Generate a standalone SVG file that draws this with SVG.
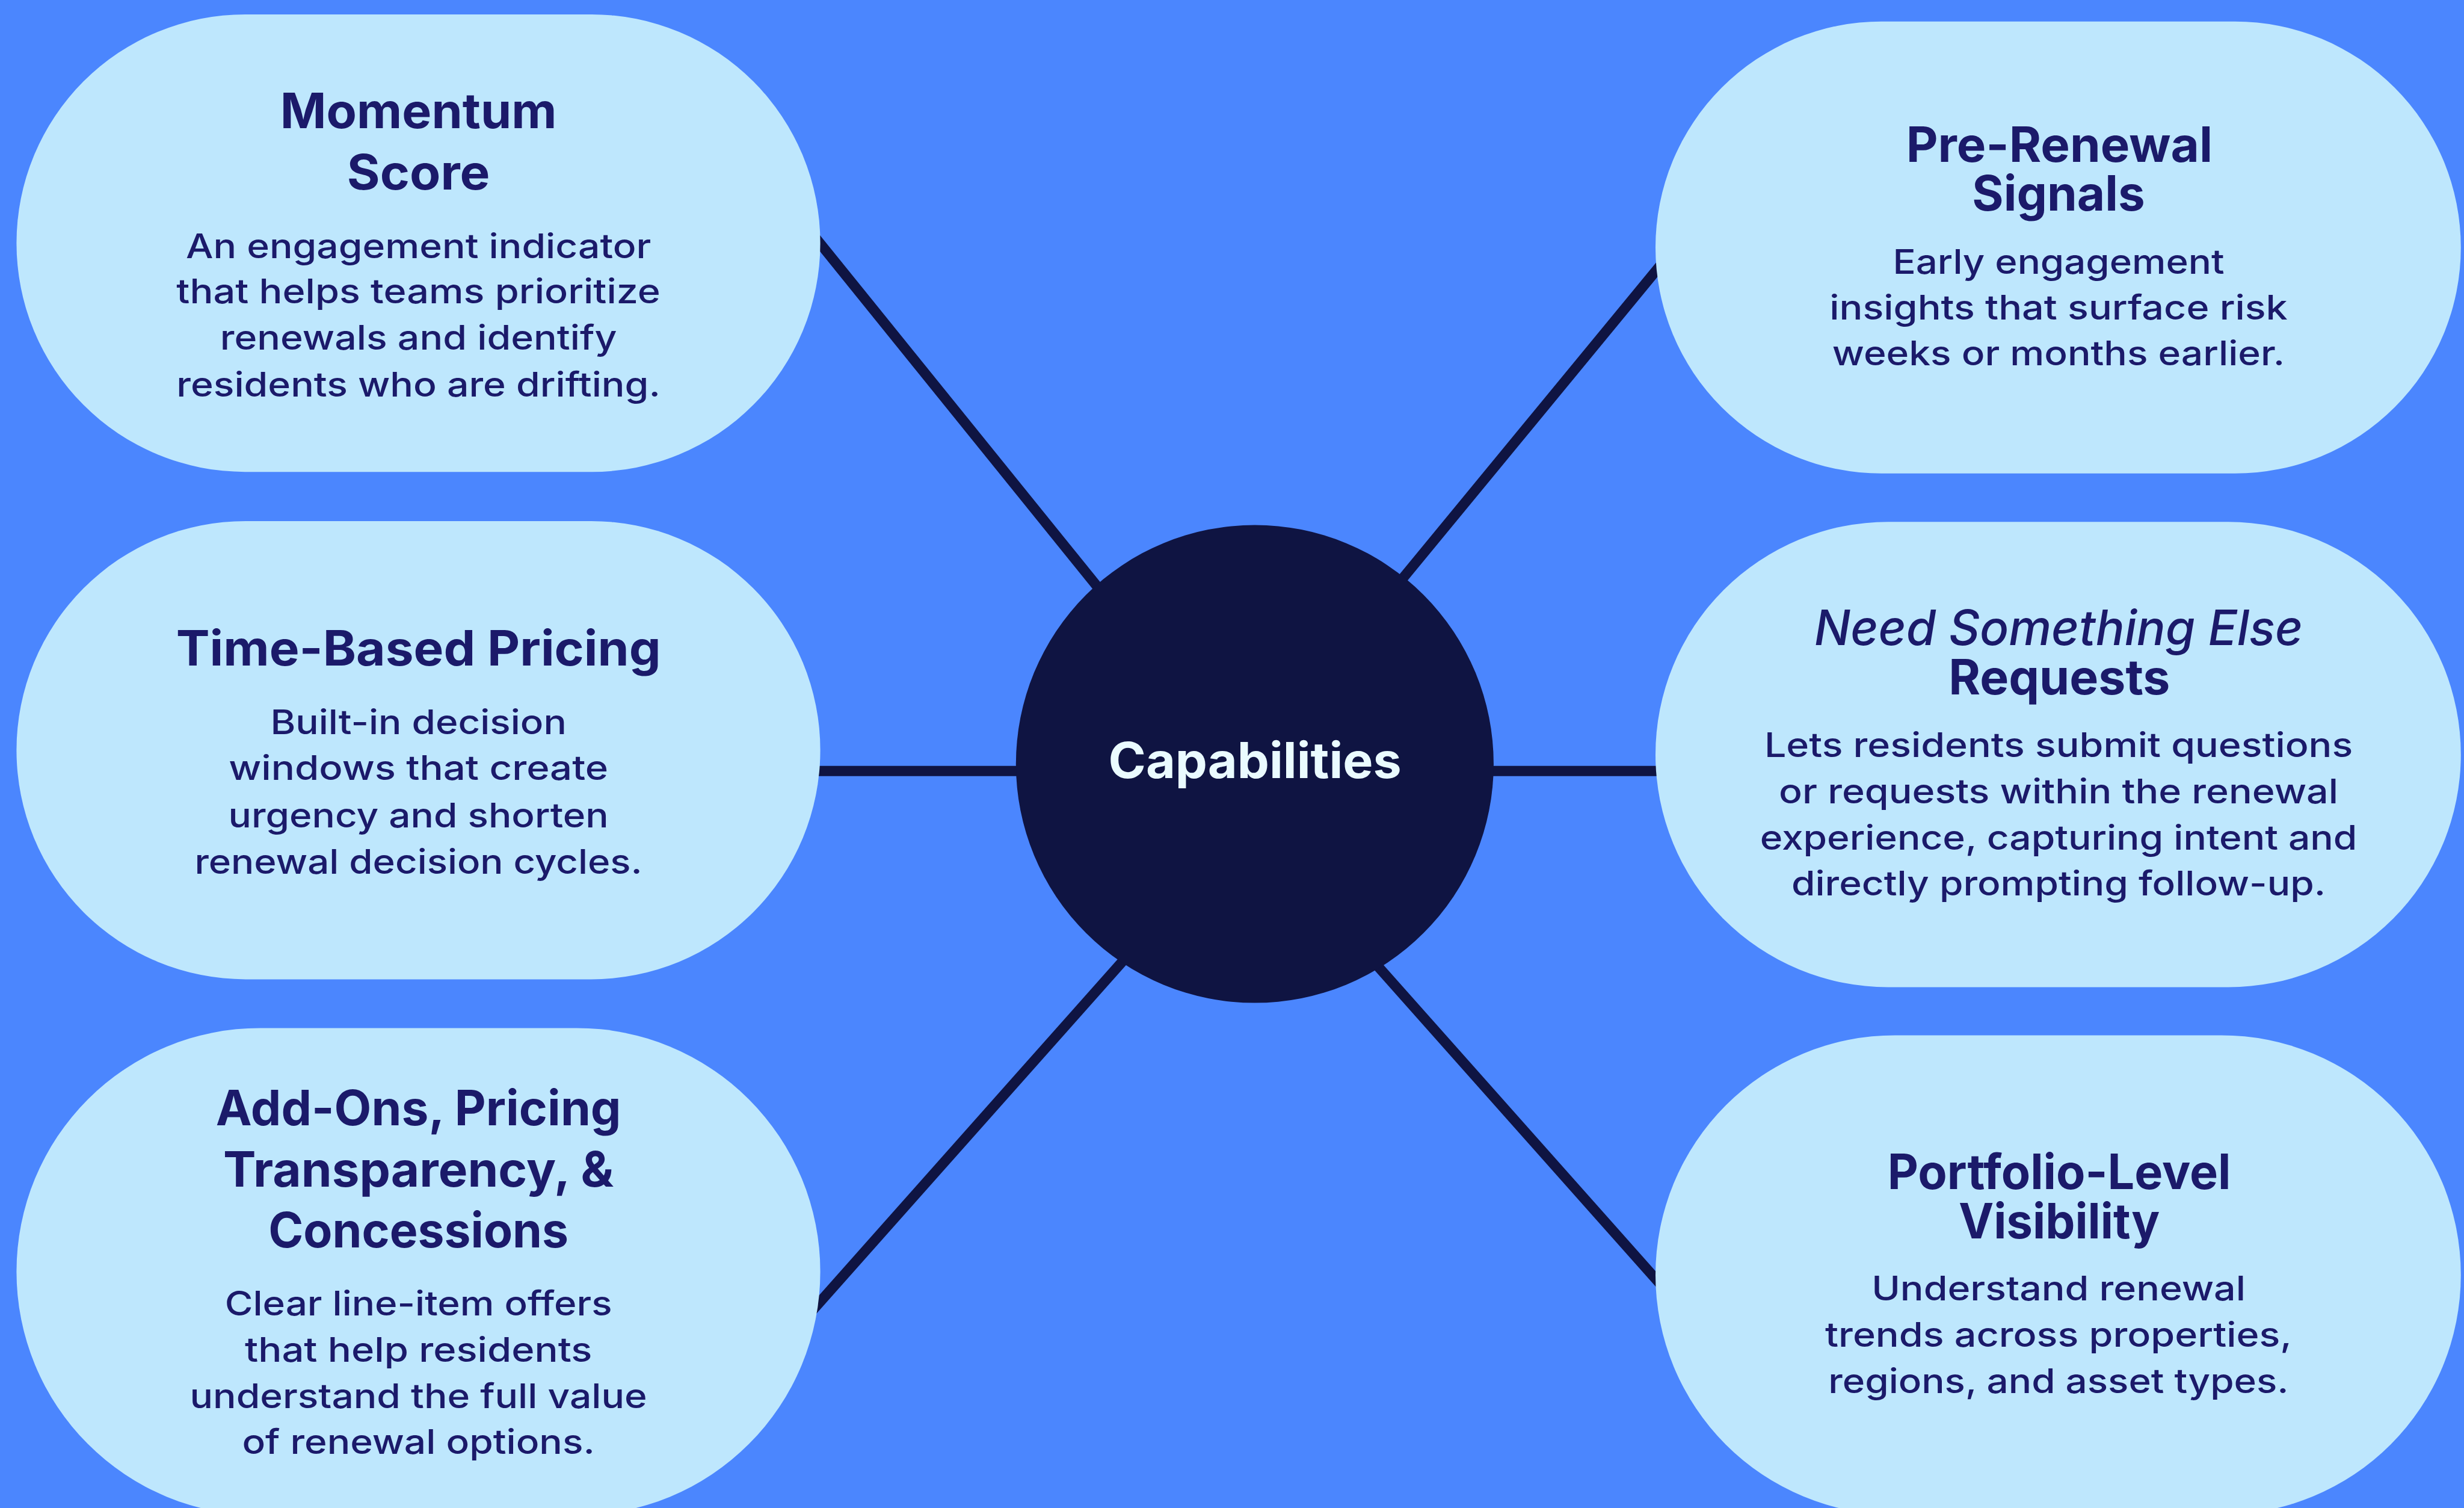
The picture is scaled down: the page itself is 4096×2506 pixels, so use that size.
<svg xmlns="http://www.w3.org/2000/svg" width="4096" height="2506" viewBox="0 0 4096 2506">
  <style>
    .pill { fill: #BEE7FD; }
    .hub { fill: #0F1442; }
    .link { stroke: #0F1442; stroke-width: 6.5; stroke-linecap: butt; fill: none; }
    .title { font-family: "Inter", "Liberation Sans", sans-serif; font-weight: 700; font-size: 30.8px; fill: #1B1A6A; text-anchor: middle; }
    .ital { font-weight: 500; font-style: italic; }
    .body { font-family: "Inter", "Liberation Sans", sans-serif; font-weight: 500; font-size: 21.6px; fill: #1B1A6A; text-anchor: middle; }
    .hub-label { font-family: "Inter", "Liberation Sans", sans-serif; font-weight: 700; font-size: 31.4px; fill: #EAFBFF; text-anchor: middle; }
  </style>
  <rect width="4096" height="2506" fill="#4B86FE"/>
  <!-- layout drawn in a 1568-wide unit space, scaled up to the canvas -->
  <g transform="scale(2.61224)">
    <g id="connectors">
      <line class="link" x1="506.3" y1="135.6" x2="713.1" y2="391.5"/>
      <line class="link" x1="505" y1="490.5" x2="665" y2="490.5"/>
      <line class="link" x1="505.4" y1="846.7" x2="730.6" y2="593.3"/>
      <line class="link" x1="1069.9" y1="152.7" x2="876.7" y2="387.3"/>
      <line class="link" x1="930" y1="490.5" x2="1070" y2="490.5"/>
      <line class="link" x1="860.9" y1="596.8" x2="1070.6" y2="832.7"/>
    </g>

    <g id="node-momentum-score">
      <rect class="pill" x="10.5" y="9.2" width="511.5" height="291" rx="145.5"/>
      <text class="title" x="266.3" y="81.6" textLength="176" lengthAdjust="spacingAndGlyphs">Momentum</text>
      <text class="title" x="266.3" y="120.4" textLength="91" lengthAdjust="spacingAndGlyphs">Score</text>
      <text class="body" x="266.3" y="164.3" textLength="296" lengthAdjust="spacingAndGlyphs">An engagement indicator</text>
      <text class="body" x="266.3" y="192.8" textLength="308" lengthAdjust="spacingAndGlyphs">that helps teams prioritize</text>
      <text class="body" x="266.3" y="222.4" textLength="252.5" lengthAdjust="spacingAndGlyphs">renewals and identify</text>
      <text class="body" x="266.3" y="252.4" textLength="308" lengthAdjust="spacingAndGlyphs">residents who are drifting.</text>
    </g>

    <g id="node-time-based-pricing">
      <rect class="pill" x="10.5" y="331.5" width="511.5" height="291.5" rx="145.75"/>
      <text class="title" x="266.3" y="423.5" textLength="308.5" lengthAdjust="spacingAndGlyphs">Time-Based Pricing</text>
      <text class="body" x="266.3" y="467.1" textLength="188.5" lengthAdjust="spacingAndGlyphs">Built-in decision</text>
      <text class="body" x="266.3" y="496.3" textLength="241.5" lengthAdjust="spacingAndGlyphs">windows that create</text>
      <text class="body" x="266.3" y="526.2" textLength="242" lengthAdjust="spacingAndGlyphs">urgency and shorten</text>
      <text class="body" x="266.3" y="555.8" textLength="285" lengthAdjust="spacingAndGlyphs">renewal decision cycles.</text>
    </g>

    <g id="node-add-ons">
      <rect class="pill" x="10.5" y="654" width="511.5" height="310" rx="155"/>
      <text class="title" x="266.3" y="716" textLength="258" lengthAdjust="spacingAndGlyphs">Add-Ons, Pricing</text>
      <text class="title" x="266.3" y="754.8" textLength="248.5" lengthAdjust="spacingAndGlyphs">Transparency, &amp;</text>
      <text class="title" x="266.3" y="793.5" textLength="191" lengthAdjust="spacingAndGlyphs">Concessions</text>
      <text class="body" x="266.3" y="836.9" textLength="246.5" lengthAdjust="spacingAndGlyphs">Clear line-item offers</text>
      <text class="body" x="266.3" y="866.2" textLength="221" lengthAdjust="spacingAndGlyphs">that help residents</text>
      <text class="body" x="266.3" y="895.8" textLength="291" lengthAdjust="spacingAndGlyphs">understand the full value</text>
      <text class="body" x="266.3" y="925" textLength="224.5" lengthAdjust="spacingAndGlyphs">of renewal options.</text>
    </g>

    <g id="node-pre-renewal">
      <rect class="pill" x="1053.5" y="13.7" width="512.5" height="287.5" rx="143.75"/>
      <text class="title"><tspan x="1310.5" y="103" textLength="195" lengthAdjust="spacingAndGlyphs">Pre-Renewal</tspan><tspan x="1310" y="134" textLength="110" lengthAdjust="spacingAndGlyphs">Signals</tspan></text>
      <text class="body" x="1310" y="174" textLength="211" lengthAdjust="spacingAndGlyphs">Early engagement</text>
      <text class="body" x="1310" y="203.4" textLength="291.5" lengthAdjust="spacingAndGlyphs">insights that surface risk</text>
      <text class="body" x="1310" y="232.5" textLength="288" lengthAdjust="spacingAndGlyphs">weeks or months earlier.</text>
    </g>

    <g id="node-need-something-else">
      <rect class="pill" x="1053.5" y="332" width="512.5" height="296" rx="148"/>
      <text class="title"><tspan class="ital" x="1310" y="410.2" textLength="311" lengthAdjust="spacingAndGlyphs">Need Something Else</tspan><tspan x="1310.5" y="441.6" textLength="141" lengthAdjust="spacingAndGlyphs">Requests</tspan></text>
      <text class="body" x="1310" y="481.6" textLength="374.5" lengthAdjust="spacingAndGlyphs">Lets residents submit questions</text>
      <text class="body" x="1310" y="511" textLength="356" lengthAdjust="spacingAndGlyphs">or requests within the renewal</text>
      <text class="body" x="1310" y="540.5" textLength="380" lengthAdjust="spacingAndGlyphs">experience, capturing intent and</text>
      <text class="body" x="1310" y="569.7" textLength="340" lengthAdjust="spacingAndGlyphs">directly prompting follow-up.</text>
    </g>

    <g id="node-portfolio-visibility">
      <rect class="pill" x="1053.5" y="658.6" width="512.5" height="305" rx="152.5"/>
      <text class="title"><tspan x="1310.4" y="756.4" textLength="218.5" lengthAdjust="spacingAndGlyphs">Portfolio-Level</tspan><tspan x="1310.4" y="787.8" textLength="128" lengthAdjust="spacingAndGlyphs">Visibility</tspan></text>
      <text class="body" x="1310" y="827.2" textLength="238" lengthAdjust="spacingAndGlyphs">Understand renewal</text>
      <text class="body" x="1310" y="856.7" textLength="297" lengthAdjust="spacingAndGlyphs">trends across properties,</text>
      <text class="body" x="1310" y="886.2" textLength="293" lengthAdjust="spacingAndGlyphs">regions, and asset types.</text>
    </g>

    <g id="node-capabilities">
      <circle class="hub" cx="798.5" cy="486" r="152"/>
      <text class="hub-label" x="798.6" y="495.1" textLength="186.5" lengthAdjust="spacingAndGlyphs">Capabilities</text>
    </g>
  </g>
</svg>
